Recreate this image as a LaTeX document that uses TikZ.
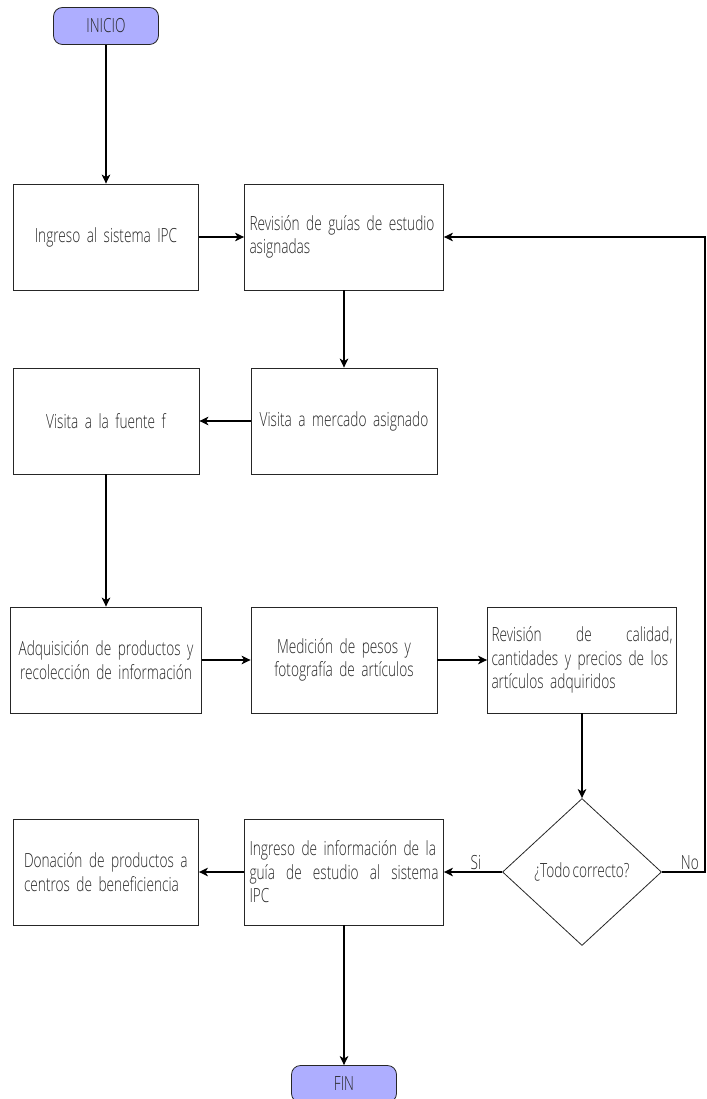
\documentclass[tikz,border=0pt]{standalone}
\usepackage{fontspec}
\setmainfont[UprightFont=* Light, FakeStretch=0.70, WordSpace={0.6,0.5,0.5}]{Open Sans}
\usetikzlibrary{shapes.geometric, arrows.meta}
\definecolor{termfill}{HTML}{AEAEFF}
\newcommand{\flowfont}{\fontsize{19.5pt}{23.5pt}\selectfont\hyphenpenalty=10000\relax}
\tikzstyle{startstop} = [rectangle, rounded corners=9pt, minimum width=105pt, minimum height=37pt, text centered, draw=black!85, line width=0.8pt, fill=termfill]
\tikzstyle{process} = [rectangle, draw=black!85, line width=0.8pt, minimum height=106pt, inner xsep=5pt, align=center]
\tikzstyle{decision} = [diamond, draw=black!85, line width=0.8pt, minimum width=159pt, minimum height=147pt, inner sep=2pt]
\tikzstyle{arrow} = [line width=2pt,->,>={Stealth[length=9pt,width=8.5pt,inset=2.5pt]}]
\tikzstyle{tag} = [inner sep=1pt, anchor=south]

\begin{document}
\begin{tikzpicture}[node distance=238pt, font=\flowfont, text=black!85]
  \useasboundingbox (0,0) rectangle (706pt,-1099pt);

  \node (inicio) [startstop] at (106pt,-26pt) {INICIO};
  \node (ingreso) [process, text width=175pt, below of=inicio, node distance=211pt] {Ingreso al sistema IPC};
  \node (guias) [process, text width=189pt, align=left, right of=ingreso] {Revisión de guías de estudio\\asignadas};
  \node (fuente) [process, text width=176pt, below of=ingreso, node distance=184pt] {Visita a la fuente f};
  \node (mercado) [process, text width=176pt, right of=fuente] {Visita a mercado asignado};
  \node (adquisicion) [process, text width=181pt, below of=fuente, node distance=239pt] {Adquisición de productos y\\recolección de información};
  \node (medicion) [process, text width=176pt, right of=adquisicion] {Medición de pesos y\\fotografía de artículos};
  \node (calidad) [process, text width=181pt, inner xsep=4pt, align=left, right of=medicion] {Revisión\hfill de\hfill calidad,\\cantidades y precios de los\\artículos adquiridos};
  \node (donacion) [process, text width=164pt, inner xsep=10.5pt, align=left, below of=adquisicion, node distance=212pt] {Donación de productos a\\centros de beneficiencia};
  \node (registro) [process, text width=189pt, align=left, right of=donacion] {Ingreso de información de la\\guía\hfill de\hfill estudio\hfill al\hfill sistema\\IPC};
  \node (correcto) [decision, right of=registro] {¿Todo correcto?};
  \node (fin) [startstop, below of=registro, node distance=212pt] {FIN};
  \coordinate (retorno) at ([xshift=43pt]correcto.east);

  \draw [arrow] (inicio) -- (ingreso);
  \draw [arrow] (ingreso) -- (guias);
  \draw [arrow] (guias) -- (mercado);
  \draw [arrow] (mercado) -- (fuente);
  \draw [arrow] (fuente) -- (adquisicion);
  \draw [arrow] (adquisicion) -- (medicion);
  \draw [arrow] (medicion) -- (calidad);
  \draw [arrow] (calidad) -- (correcto);
  \draw [arrow] (correcto) -- (registro) node (si) [tag, pos=0.45] {Si};
  \draw [arrow] (correcto.east) -- (retorno) node (no) [tag, pos=0.65] {No} |- (guias.east);
  \draw [arrow] (registro) -- (donacion);
  \draw [arrow] (registro) -- (fin);
\end{tikzpicture}
\end{document}
